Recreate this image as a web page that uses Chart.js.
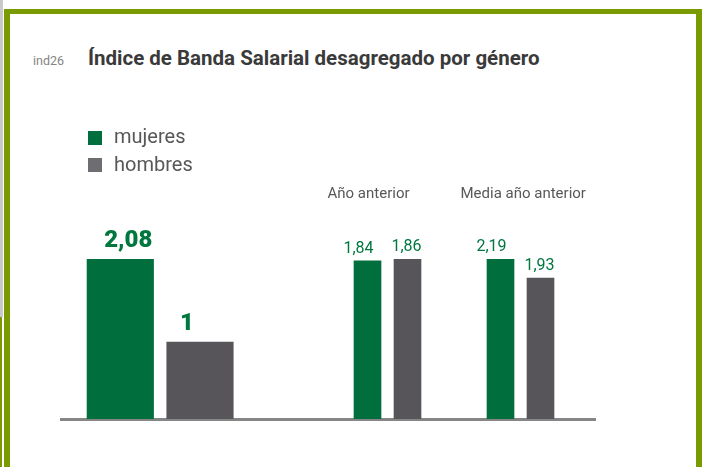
<!DOCTYPE html>
<html lang="es">
<head>
<meta charset="utf-8">
<title>Índice de Banda Salarial desagregado por género</title>
<script src="https://cdn.jsdelivr.net/npm/chart.js@4.4.1/dist/chart.umd.min.js"></script>
<style>
  html, body { margin: 0; padding: 0; background: #fff; }
  body { width: 704px; height: 467px; position: relative; overflow: hidden; font-family: Roboto, "Noto Sans", sans-serif; }
  .edge { position: absolute; left: 0; top: 0; width: 3px; height: 317px; background: #c9c9c9; }
  .edge2 { position: absolute; left: 0; top: 317px; width: 2px; height: 150px; background: #7a9a01; }
  .frame { position: absolute; left: 4px; top: 9px; width: 686px; height: 480px; border: 6px solid #7a9a01; border-top-width: 5px; border-bottom: none; }
  .code { position: absolute; left: 33px; top: 55px; font-size: 12.5px; line-height: 12px; color: #858585; }
  .title { position: absolute; left: 88px; top: 48px; font-size: 20.5px; line-height: 20px; font-weight: 700; color: #3a3a3a; white-space: nowrap; }
  #chart { position: absolute; left: 0; top: 0; }
</style>
</head>
<body>
<div class="edge"></div>
<div class="edge2"></div>
<div class="frame"></div>
<div class="code">ind26</div>
<div class="title">Índice de Banda Salarial desagregado por género</div>
<canvas id="chart" width="704" height="467"></canvas>
<script>
// values
const groupLabels = ['', 'Año anterior', 'Media año anterior'];
const mujeres = [2.08, 1.84, 2.19];
const hombres = [1, 1.86, 1.93];
const seriesNames = ['mujeres', 'hombres'];

const seriesColors = ['#006f3d', '#58555a'];
const legendColors = ['#006f3d', '#6e6e72'];
const labelColor = '#00773f';

// every group gets its own hidden linear x axis: series 0 and 1 sit at x = 0 and 1,
// the axis range places the pair along the shared baseline
const groupAxes = [
    { min: -0.744, max: 5.956, bar: 66.5 },
    { min: -7.6625, max: 5.6875, bar: 27 },
    { min: -10.9875, max: 2.3625, bar: 27 }
];

const fmt = v => String(v).replace('.', ',');

const datasets = [];
const scales = {};
groupLabels.forEach((g, gi) => {
    const ax = groupAxes[gi];
    const xId = 'x' + gi;
    const yId = 'y' + gi;
    datasets.push({
        label: g,
        data: [mujeres[gi], hombres[gi]].map((v, si) => ({ x: si, y: v })),
        backgroundColor: seriesColors,
        xAxisID: xId,
        yAxisID: yId,
        grouped: false,
        barThickness: ax.bar,
        group: gi
    });
    scales[xId] = {
        type: 'linear',
        min: ax.min,
        max: ax.max,
        offset: false,
        position: 'bottom',
        display: gi === 0,
        ticks: { display: false },
        grid: { display: true, offset: false, drawOnChartArea: false, drawTicks: false, color: 'rgba(0,0,0,0)' },
        border: { display: gi === 0, color: '#868686', width: 3 }
    };
    scales[yId] = {
        type: 'linear',
        display: false,
        min: 0,
        max: Math.max(mujeres[gi], hombres[gi])
    };
});

const labelsPlugin = {
    id: 'marks',
    afterDatasetsDraw(chart) {
        const ctx = chart.ctx;
        ctx.save();
        ctx.textAlign = 'center';
        ctx.textBaseline = 'alphabetic';
        ctx.fillStyle = labelColor;
        chart.data.datasets.forEach((ds, di) => {
            const meta = chart.getDatasetMeta(di);
            ds.data.forEach((p, si) => {
                const el = meta.data[si];
                if (ds.group === 0) {
                    ctx.font = '900 24px Roboto';
                    const shift = si === 0 ? 8 : -13;
                    ctx.fillText(fmt(p.y), el.x + shift, el.y - 12);
                } else {
                    ctx.font = '16px Roboto';
                    const shift = si === 0 ? -9 : -1;
                    ctx.fillText(fmt(p.y), el.x + shift, el.y - 8);
                }
            });
        });

        // group titles above the reference bars
        ctx.fillStyle = '#58585a';
        ctx.font = '15px Roboto';
        ctx.textAlign = 'left';
        groupLabels.forEach((g, gi) => {
            if (!g) return;
            const x = chart.scales['x' + gi].getPixelForValue(0);
            ctx.fillText(g, x - 40, 198);
        });

        // legend
        ctx.font = '20px Roboto';
        seriesNames.forEach((name, si) => {
            ctx.fillStyle = legendColors[si];
            ctx.fillRect(88, 131 + si * 27, 14, 14);
            ctx.fillStyle = '#575757';
            ctx.fillText(name, 114, 143 + si * 27.5);
        });
        ctx.restore();
    }
};

new Chart(document.getElementById('chart'), {
    type: 'bar',
    data: { datasets: datasets },
    options: {
        responsive: false,
        animation: false,
        layout: { padding: { left: 61, right: 109, top: 259, bottom: 48 } },
        plugins: {
            legend: { display: false },
            title: { display: false },
            tooltip: { enabled: false }
        },
        scales: scales
    },
    plugins: [labelsPlugin]
});
</script>
</body>
</html>
